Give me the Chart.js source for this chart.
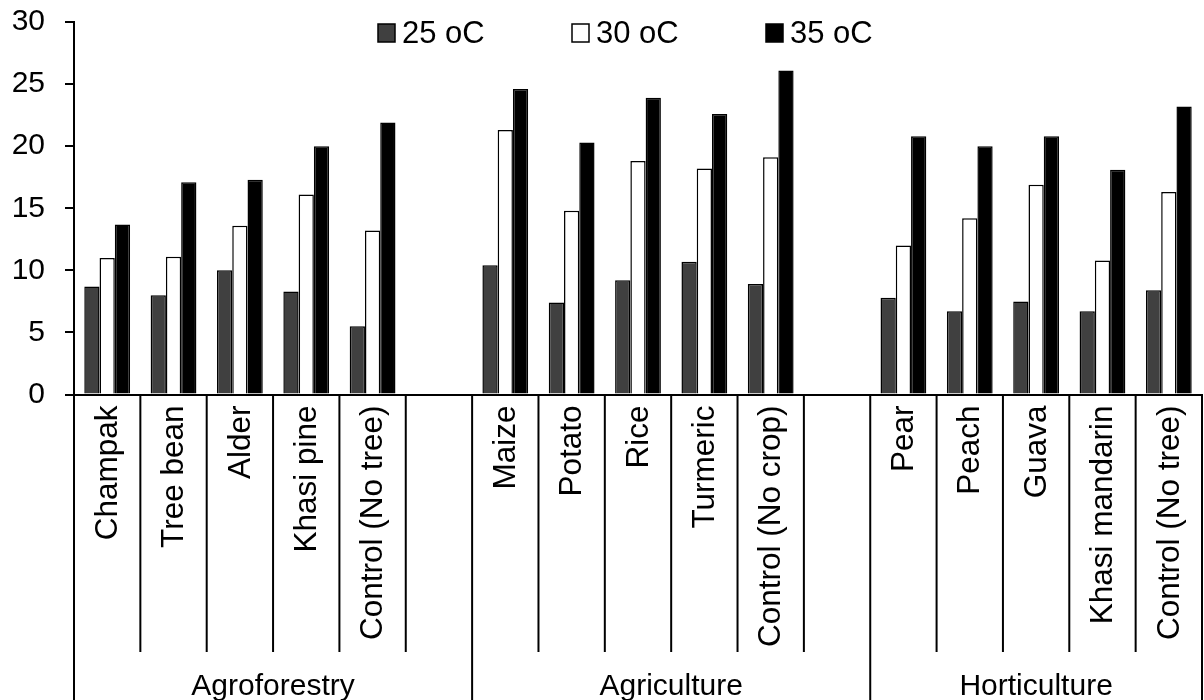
<!DOCTYPE html>
<html>
<head>
<meta charset="utf-8">
<title>Respiration by land use</title>
<script src="https://cdn.jsdelivr.net/npm/chart.js@4.4.0/dist/chart.umd.min.js"></script>
<style>
  html, body { margin: 0; padding: 0; background: #fff; }
  #wrap { width: 1204px; height: 700px; position: relative; }
</style>
</head>
<body>
<div id="wrap"><canvas id="respChart"></canvas></div>
<script>
// categories, with a blank slot between land-use groups
const categories = [
  'Champak', 'Tree bean', 'Alder', 'Khasi pine', 'Control (No tree)', '',
  'Maize', 'Potato', 'Rice', 'Turmeric', 'Control (No crop)', '',
  'Pear', 'Peach', 'Guava', 'Khasi mandarin', 'Control (No tree)'
];
const groups = ['Agroforestry', 'Agriculture', 'Horticulture'];
const groupSpans = [6, 6, 5];
const seriesNames = ['25 oC', '30 oC', '35 oC'];

const temp25 = [8.7, 8.0, 10.0, 8.3, 5.5, null, 10.4, 7.4, 9.2, 10.7, 8.9, null, 7.8, 6.7, 7.5, 6.7, 8.4];
const temp30 = [11.0, 11.1, 13.6, 16.1, 13.2, null, 21.3, 14.8, 18.8, 18.2, 19.1, null, 12.0, 14.2, 16.9, 10.8, 16.3];
const temp35 = [13.7, 17.1, 17.3, 20.0, 21.9, null, 24.6, 20.3, 23.9, 22.6, 26.1, null, 20.8, 20.0, 20.8, 18.1, 23.2];

const yMin = 0, yMax = 30, yStep = 5;

const FONT = "'Liberation Sans', Arial, sans-serif";
const fills = ['#404040', '#ffffff', '#000000'];

// legend drawn over the plot, plus the two-level category axis underneath
const overlay = {
  id: 'overlay',
  afterDraw(chart) {
    const ctx = chart.ctx;
    const area = chart.chartArea;
    const x = chart.scales.x;
    const step = x.getPixelForValue(1) - x.getPixelForValue(0);
    const first = x.getPixelForValue(0) - step / 2;
    const yAxis = area.bottom;
    const yInner = 652;
    const yEnd = chart.height;

    ctx.save();
    ctx.strokeStyle = '#000';
    ctx.lineWidth = 2;

    // boundaries of the groups run the full height
    const groupEdges = [0];
    groupSpans.forEach(n => groupEdges.push(groupEdges[groupEdges.length - 1] + n));

    for (let i = 0; i <= categories.length; i++) {
      const px = first + i * step;
      const full = groupEdges.includes(i);
      ctx.beginPath();
      ctx.moveTo(px, yAxis);
      ctx.lineTo(px, full ? yEnd : yInner);
      ctx.stroke();
    }

    // rotated category labels
    ctx.fillStyle = '#000';
    ctx.font = '31.5px ' + FONT;
    categories.forEach((label, i) => {
      if (!label) return;
      const cx = x.getPixelForValue(i);
      ctx.save();
      ctx.translate(cx + 1, yAxis + 11);
      ctx.rotate(-Math.PI / 2);
      ctx.textAlign = 'right';
      ctx.textBaseline = 'middle';
      ctx.fillText(label, 0, 0);
      ctx.restore();
    });

    // group labels
    ctx.font = '30px ' + FONT;
    ctx.textAlign = 'center';
    ctx.textBaseline = 'alphabetic';
    groups.forEach((g, k) => {
      const a = first + groupEdges[k] * step;
      const b = first + groupEdges[k + 1] * step;
      ctx.fillText(g, (a + b) / 2, 695);
    });

    // legend
    const mid = (area.left + area.right) / 2;
    const itemStep = 194;
    const startX = mid - 260;
    ctx.font = '31px ' + FONT;
    ctx.textAlign = 'left';
    chart.data.datasets.forEach((ds, k) => {
      const bx = startX + k * itemStep;
      ctx.fillStyle = ds.backgroundColor;
      ctx.fillRect(bx, 24, 17, 18);
      ctx.lineWidth = 1.5;
      ctx.strokeRect(bx, 24, 17, 18);
      ctx.fillStyle = '#000';
      ctx.fillText(ds.label, bx + 24, 43);
    });
    ctx.restore();
  }
};

const ctx = document.getElementById('respChart').getContext('2d');
const respChart = new Chart(ctx, {
  type: 'bar',
  data: {
    labels: categories,
    datasets: [temp25, temp30, temp35].map((vals, k) => ({
      label: seriesNames[k],
      data: vals,
      backgroundColor: fills[k],
      borderColor: '#000',
      borderWidth: 1.5,
      categoryPercentage: 0.69,
      barPercentage: 1.0
    }))
  },
  options: {
    responsive: true,
    maintainAspectRatio: false,
    animation: false,
    layout: { padding: { top: 22, right: 2, left: 0, bottom: 0 } },
    plugins: {
      legend: { display: false },
      tooltip: { enabled: false }
    },
    scales: {
      x: {
        grid: { display: false },
        border: { display: true, color: '#000', width: 2 },
        ticks: { display: false },
        afterFit(scale) {
          scale.height = 305.5;
          scale.paddingLeft = 0;
          scale.paddingRight = 0;
        }
      },
      y: {
        min: yMin,
        max: yMax,
        ticks: {
          stepSize: yStep,
          color: '#000',
          padding: 20,
          font: { family: FONT, size: 30 }
        },
        grid: {
          display: true,
          drawOnChartArea: false,
          drawTicks: true,
          tickLength: 9,
          color: '#000',
          lineWidth: 2
        },
        border: { display: true, color: '#000', width: 2 },
        afterFit(scale) {
          scale.width = 74;
          scale.paddingTop = 0;
          scale.paddingBottom = 0;
        }
      }
    }
  },
  plugins: [overlay]
});
</script>
</body>
</html>
